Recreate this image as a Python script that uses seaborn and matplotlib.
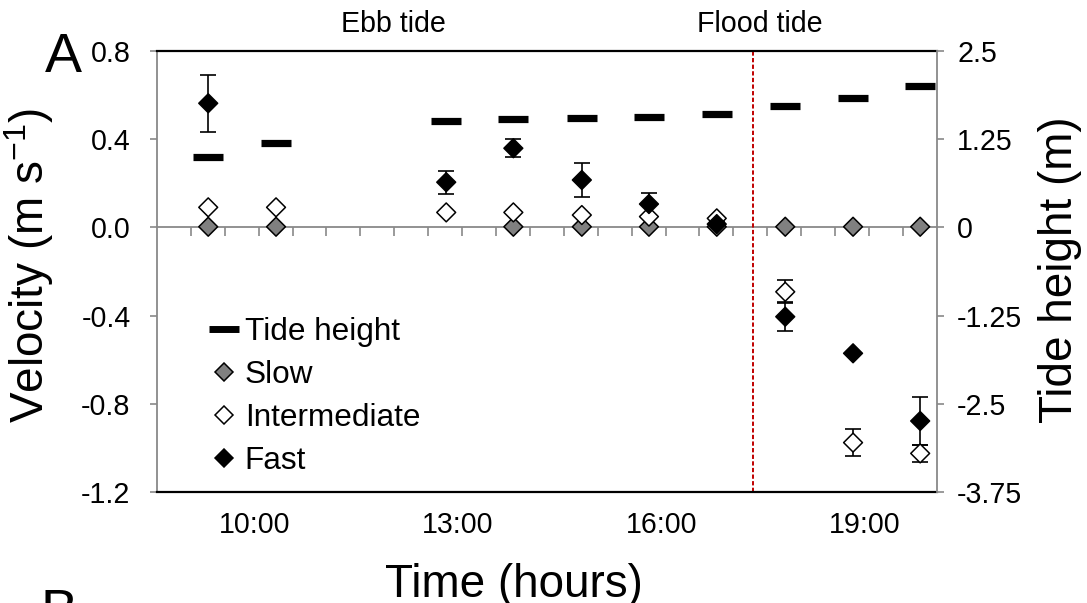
import numpy as np
import pandas as pd
import matplotlib
matplotlib.use("Agg")
import matplotlib.pyplot as plt
from matplotlib.lines import Line2D
import seaborn as sns

# ---------------- data ----------------
times = [9.32, 10.32, 12.83, 13.82, 14.83, 15.82, 16.82, 17.83, 18.83, 19.82]   # hours
tide_height = [1.00, 1.20, 1.51, 1.54, 1.55, 1.565, 1.61, 1.72, 1.84, 2.01]       # m
slow = [0.003, 0.003, np.nan, 0.003, 0.003, 0.003, 0.003, 0.003, 0.003, 0.003]
intermediate = [0.091, 0.091, 0.068, 0.068, 0.056, 0.049, 0.041, -0.292, -0.976, -1.025]
intermediate_err = [0, 0, 0, 0, 0, 0, 0, 0.052, 0.06, 0.04]
fast = [0.563, np.nan, 0.205, 0.359, 0.215, 0.106, 0.015, -0.405, -0.571, -0.878]
fast_err = [0.13, 0, 0.053, 0.04, 0.075, 0.049, 0.01, 0.065, 0, 0.107]
turn_of_tide = 17.35
xtick_pos = [10, 13, 16, 19]
xtick_labels = ["10:00", "13:00", "16:00", "19:00"]
vel_ticks = [-1.2, -0.8, -0.4, 0.0, 0.4, 0.8]
vel_labels = ["-1.2", "-0.8", "-0.4", "0.0", "0.4", "0.8"]
tide_ticks = [-3.75, -2.5, -1.25, 0, 1.25, 2.5]
tide_labels = ["-3.75", "-2.5", "-1.25", "0", "1.25", "2.5"]
classes = ["Slow", "Intermediate", "Fast"]
class_colors = {"Slow": "#808080", "Intermediate": "white", "Fast": "black"}

# ---------------- style ----------------
sns.set_theme(style="white")
plt.rcParams["font.family"] = ["Liberation Sans", "DejaVu Sans"]
plt.rcParams["axes.unicode_minus"] = False
plt.rcParams["mathtext.fontset"] = "custom"
plt.rcParams["mathtext.rm"] = "Liberation Sans"
plt.rcParams["mathtext.it"] = "Liberation Sans:italic"
plt.rcParams["text.color"] = "black"
plt.rcParams["axes.labelcolor"] = "black"
plt.rcParams["xtick.color"] = "black"
plt.rcParams["ytick.color"] = "black"
GRAY = "#898989"

fig = plt.figure(figsize=(10.87, 6.03), dpi=100)
ax = fig.add_axes([0.1444, 0.1841, 0.7176, 0.7313])
ax.set_xlim(8.564, 20.068)
ax.set_ylim(-1.2, 0.8)
ax2 = ax.twinx()
ax2.set_ylim(-3.75, 2.5)

# long-format frame for seaborn
rows = []
for cls, vals in zip(classes, [slow, intermediate, fast]):
    for t, v in zip(times, vals):
        if not np.isnan(v):
            rows.append({"time": t, "velocity": v, "class": cls})
df = pd.DataFrame(rows)

# error bars (under markers)
for vals, errs in [(intermediate, intermediate_err), (fast, fast_err)]:
    t = np.array(times); v = np.array(vals); e = np.array(errs)
    m = (~np.isnan(v)) & (e > 0)
    ax.errorbar(t[m], v[m], yerr=e[m], fmt="none", ecolor="black",
                elinewidth=1.2, capsize=5.5, capthick=1.2, zorder=2)

sns.scatterplot(data=df, x="time", y="velocity", hue="class", palette=class_colors,
                hue_order=classes, marker="D", s=92, edgecolor="black", linewidth=1.1,
                ax=ax, legend=False, zorder=3)

# tide height dashes on the secondary axis
ax2.plot(times, tide_height, ls="none", marker="_", ms=21, mew=5.2, color="black", zorder=3)

# ebb/flood divider
ax.axvline(turn_of_tide, color="#C00000", lw=1.4, ls=(0, (2.2, 1.2)), zorder=1)

# zero line with half-hour ticks
sec = ax.secondary_xaxis(0.6)
sec.set_xticks(np.arange(8.564 + 0.5, 20.06, 0.5))
sec.tick_params(axis="x", direction="in", length=6.5, width=1.2, color=GRAY,
                labeltop=False, labelbottom=False, top=True, bottom=False)
for s in sec.spines.values():
    s.set_color(GRAY)
    s.set_linewidth(1.3)

# spines
ax.spines["top"].set_color("black"); ax.spines["top"].set_linewidth(1.6)
ax.spines["bottom"].set_color("black"); ax.spines["bottom"].set_linewidth(1.6)
ax.spines["left"].set_color(GRAY); ax.spines["left"].set_linewidth(1.3)
ax.spines["right"].set_visible(False)
for k in ["top", "bottom", "left"]:
    ax2.spines[k].set_visible(False)
ax2.spines["right"].set_color(GRAY); ax2.spines["right"].set_linewidth(1.3)

# ticks
ax.set_xticks(xtick_pos)
ax.set_xticklabels(xtick_labels)
ax.set_yticks(vel_ticks)
ax.set_yticklabels(vel_labels)
ax.tick_params(axis="x", length=0, pad=14, labelsize=20.6, labelcolor="black")
ax.tick_params(axis="y", left=True, direction="out", length=5, width=1.2, color=GRAY,
               pad=14, labelsize=20.6, labelcolor="black")
ax2.set_yticks(tide_ticks)
ax2.set_yticklabels(tide_labels)
ax2.tick_params(axis="y", right=True, direction="out", length=5, width=1.2, color=GRAY,
                pad=9.5, labelsize=20.6, labelcolor="black")
ax.grid(False); ax2.grid(False)

# axis labels
ax.set_xlabel("")
ax.set_ylabel("Velocity (m s$^{-1}$)", fontsize=33, va="center", color="black")
ax.yaxis.set_label_coords(-0.164, 0.514)
ax2.set_ylabel("Tide height (m)", fontsize=33, va="center", rotation=90, color="black")
ax2.yaxis.set_label_coords(1.158, 0.5045)
fig.text(0.4729, 0.00995, "Time (hours)", fontsize=33, ha="center", va="baseline", color="black")

# annotations
fig.text(0.3615, 0.947, "Ebb tide", fontsize=20.6, ha="center", va="baseline", color="black")
fig.text(0.6992, 0.947, "Flood tide", fontsize=20.6, ha="center", va="baseline", color="black")
fig.text(0.0414, 0.8806, "A", fontsize=40, ha="left", va="baseline", color="black")
fig.text(0.0377, -0.0415, "B", fontsize=40, ha="left", va="baseline", color="black")

# legend
handles = [
    Line2D([], [], ls="none", marker="_", ms=21, mew=5, color="black"),
    Line2D([], [], ls="none", marker="D", ms=9, mfc=class_colors["Slow"], mec="black", mew=1.1),
    Line2D([], [], ls="none", marker="D", ms=9, mfc=class_colors["Intermediate"], mec="black", mew=1.1),
    Line2D([], [], ls="none", marker="D", ms=9, mfc=class_colors["Fast"], mec="black", mew=1.1),
]
leg = ax2.legend(handles, ["Tide height"] + classes, loc="upper left",
                 bbox_to_anchor=(0.0654, 0.3968), frameon=False, fontsize=22.7,
                 borderpad=0, borderaxespad=0, handlelength=1.0, handletextpad=0.17,
                 labelspacing=0.41, labelcolor="black")

fig.savefig("out.png", dpi=100)
